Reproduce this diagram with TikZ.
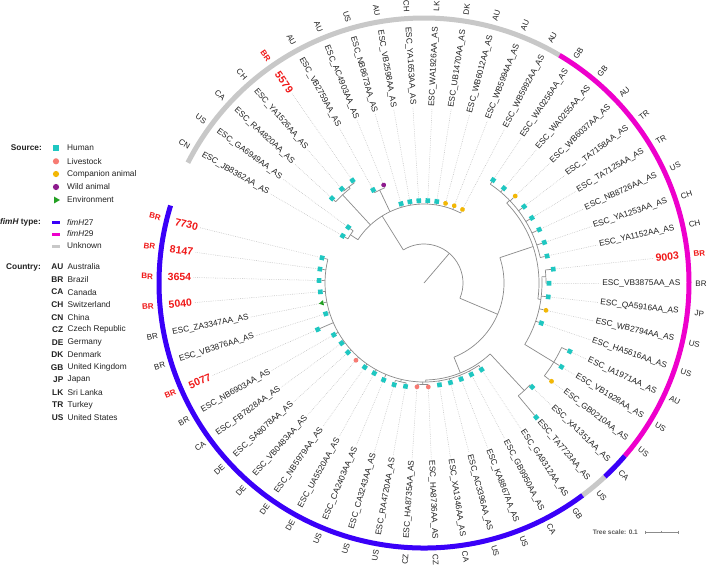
\documentclass[tikz,border=0pt]{standalone}
\usepackage{fontspec}
\setmainfont{Liberation Sans}
\usetikzlibrary{shapes.geometric}
\definecolor{human}{HTML}{1FC7C1}
\definecolor{livestock}{HTML}{F77B73}
\definecolor{companion}{HTML}{F2B705}
\definecolor{wild}{HTML}{8E1B8E}
\definecolor{env}{HTML}{22A022}
\definecolor{fimblue}{HTML}{3A00F8}
\definecolor{fimmag}{HTML}{EE00CC}
\definecolor{ringgrey}{HTML}{C8C8C8}
\definecolor{branch}{HTML}{8A8A8A}
\definecolor{dotc}{HTML}{B8B8B8}
\definecolor{numred}{HTML}{F01818}
\definecolor{txt}{HTML}{222222}
\tikzset{
 br/.style={draw=branch, line width=0.7pt},
 dotline/.style={draw=dotc, line width=0.5pt, dash pattern=on 0.6pt off 1.2pt},
 mk-h/.style={rectangle, fill=human, minimum size=4.6pt, inner sep=0pt},
 mk-l/.style={circle, fill=livestock, minimum size=4.8pt, inner sep=0pt},
 mk-c/.style={circle, fill=companion, minimum size=4.8pt, inner sep=0pt},
 mk-w/.style={circle, fill=wild, minimum size=4.8pt, inner sep=0pt},
 mk-e/.style={isosceles triangle, isosceles triangle apex angle=60, fill=env, minimum size=4.6pt, inner sep=0pt},
 lbl-0/.style={font=\fontsize{8.3}{9}\selectfont, text=txt, inner sep=0.5pt},
 lbl-1/.style={font=\fontsize{10.5}{11}\selectfont\bfseries, text=numred, inner sep=0.5pt},
 cty-0/.style={font=\fontsize{8}{9}\selectfont, text=txt, inner sep=0pt},
 cty-1/.style={font=\fontsize{8}{9}\selectfont\bfseries, text=numred, inner sep=0pt},
 lgh/.style={font=\fontsize{8.3}{9}\selectfont\bfseries, text=txt, inner sep=0pt, anchor=east},
 lgt/.style={font=\fontsize{8.3}{9}\selectfont, text=txt, inner sep=0pt, anchor=west},
 lgc/.style={font=\fontsize{8.3}{9}\selectfont\bfseries, text=txt, inner sep=0pt, anchor=east},
 ringseg/.style={line width=5pt},
}
\newcommand\trad[3]{\draw[br] (#1:#2) -- (#1:#3);}
\newcommand\tarc[3]{\draw[br] (#2:#1) arc[start angle=#2, end angle=#3, radius=#1];}
\begin{document}
\begin{tikzpicture}[x=1pt,y=1pt]
\useasboundingbox (0,0) rectangle (708,-566);
\fill[white] (0,0) rectangle (708,-566);
\begin{scope}[shift={(424,-283)}]
 % ring
 \draw[ringseg, ringgrey] (153:265) arc[start angle=153, end angle=59.25, radius=265];
 \draw[ringseg, fimmag] (59.25:265) arc[start angle=59.25, end angle=-40.75, radius=265];
 \draw[ringseg, fimblue] (-40.75:265) arc[start angle=-40.75, end angle=-47, radius=265];
 \draw[ringseg, ringgrey] (-47:265) arc[start angle=-47, end angle=-53.25, radius=265];
 \draw[ringseg, fimblue] (-53.25:265) arc[start angle=-53.25, end angle=-197, radius=265];
 % tree internal branches
 \trad{49.5}{0}{39} \tarc{39}{122}{-23}
 \trad{122}{39}{79} \tarc{79}{146.75}{62.375}
 \trad{146.75}{79}{88} \tarc{88}{149.875}{143.625}
 \trad{132.7}{79}{120} \tarc{120}{137.375}{128}
 \trad{128}{120}{122} \tarc{122}{131.125}{124.875}
 \trad{115.5}{79}{103} \tarc{103}{118.625}{112.375}
 \trad{-23}{39}{80} \tarc{80}{18.5}{-68}
 \trad{18.5}{80}{115} \tarc{115}{44}{-8}
 \trad{44}{115}{119} \tarc{119}{56.125}{12.375}
 \trad{-8}{115}{118} \tarc{118}{3}{-31.375}
 \trad{3}{118}{122} \tarc{122}{6.125}{-0.125}
 \trad{-31.375}{118}{152} \tarc{152}{-25.125}{-37.625}
 \trad{-68}{80}{97} \tarc{97}{-47}{-89}
 \trad{-47}{97}{147} \tarc{147}{-43.875}{-50.125}
 \trad{-89}{97}{99} \tarc{99}{-56.375}{-193.875}
 \trad{-90.75}{99}{101.5} \tarc{101.5}{-87.625}{-93.875}
 \trad{-103.25}{99}{101.5} \tarc{101.5}{-100.125}{-106.375}
 % tips
 \foreach \i/\lab/\red/\cc/\src/\rd/\rb in {
  0/ESC\_JB8362AA\_AS/0/CN/h/94/88,
  1/ESC\_GA6949AA\_AS/0/US/h/94/88,
  2/ESC\_RA4820AA\_AS/0/CA/h/125/120,
  3/ESC\_YA1526AA\_AS/0/CH/h/125/122,
  4/5579/1/BR/h/125/122,
  5/ESC\_VB2759AA\_AS/0/AU/h/106/103,
  6/ESC\_AC4903AA\_AS/0/AU/w/106/103,
  7/ESC\_NB8673AA\_AS/0/US/h/82.5/79,
  8/ESC\_VB2598AA\_AS/0/AU/h/82.5/79,
  9/ESC\_YA1653AA\_AS/0/CH/h/82.5/79,
  10/ESC\_WA1926AA\_AS/0/LK/h/82.5/79,
  11/ESC\_UB1470AA\_AS/0/DK/h/82.5/79,
  12/ESC\_WB6012AA\_AS/0/AU/c/82.5/79,
  13/ESC\_WB5994AA\_AS/0/AU/c/83/79,
  14/ESC\_WB5992AA\_AS/0/AU/c/83/79,
  15/ESC\_WA0256AA\_AS/0/GB/h/124/119,
  16/ESC\_WA0255AA\_AS/0/GB/h/124/119,
  17/ESC\_WB6037AA\_AS/0/AU/c/126/119,
  18/ESC\_TA7158AA\_AS/0/TR/h/126/119,
  19/ESC\_TA7125AA\_AS/0/TR/h/126/119,
  20/ESC\_NB8726AA\_AS/0/US/h/127/119,
  21/ESC\_YA1253AA\_AS/0/CH/h/127/119,
  22/ESC\_YA1152AA\_AS/0/CH/h/126/119,
  23/9003/1/BR/h/130/122,
  24/ESC\_VB3875AA\_AS/0/BR/h/125/122,
  25/ESC\_QA5916AA\_AS/0/JP/h/125/118,
  26/ESC\_WB2794AA\_AS/0/US/c/125/118,
  27/ESC\_HA5616AA\_AS/0/US/h/124/118,
  28/ESC\_IA1971AA\_AS/0/AU/h/161/152,
  29/ESC\_VB1928AA\_AS/0/US/h/161/152,
  30/ESC\_GB0210AA\_AS/0/US/c/161/152,
  31/ESC\_XA1351AA\_AS/0/CA/h/150/147,
  32/ESC\_TA7723AA\_AS/0/US/h/175/147,
  33/ESC\_GA9312AA\_AS/0/GB/h/104/99,
  34/ESC\_GB9950AA\_AS/0/CA/h/103/99,
  35/ESC\_KA8867AA\_AS/0/US/h/103/99,
  36/ESC\_AC3396AA\_AS/0/US/h/103/99,
  37/ESC\_XA1346AA\_AS/0/CA/h/103/99,
  38/ESC\_HA8736AA\_AS/0/CZ/l/104/101.5,
  39/ESC\_HA8735AA\_AS/0/CZ/l/104/101.5,
  40/ESC\_RA4720AA\_AS/0/US/h/105/101.5,
  41/ESC\_CA3243AA\_AS/0/US/h/106/101.5,
  42/ESC\_CA2403AA\_AS/0/US/h/105/99,
  43/ESC\_UA5520AA\_AS/0/DE/h/103/99,
  44/ESC\_NB5979AA\_AS/0/DE/h/103/99,
  45/ESC\_VB0483AA\_AS/0/DE/l/103/99,
  46/ESC\_SA8078AA\_AS/0/DE/h/103/99,
  47/ESC\_FB7828AA\_AS/0/CA/h/102/99,
  48/ESC\_NB6903AA\_AS/0/BR/h/104/99,
  49/5077/1/BR/h/116/99,
  50/ESC\_VB3876AA\_AS/0/BR/h/103/99,
  51/ESC\_ZA3347AA\_AS/0/BR/e/104/99,
  52/5040/1/BR/h/104/99,
  53/3654/1/BR/h/105/99,
  54/8147/1/BR/h/105/99,
  55/7730/1/BR/h/105/99} {
  \pgfmathsetmacro\ang{149.875-6.25*\i}
  \pgfmathsetmacro\cosv{cos(\ang)}
  \ifdim\cosv pt<0pt
    \pgfmathsetmacro\rot{\ang+180}\def\anc{west}\def\inanc{east}
  \else
    \let\rot\ang\def\anc{east}\def\inanc{west}
  \fi
  \node[mk-\src, rotate=\ang] (T\i) at (\ang:\rd) {};
  \draw[br] (\ang:\rb) -- (T\i);
  \node[lbl-\red, rotate=\rot, anchor=\anc] (L\i) at (\ang:257) {\lab};
  \node[cty-\red, rotate=\rot] (C\i) at (\ang:277) {\cc};
  \draw[dotline, shorten >=1.5pt] (T\i) -- (L\i.\inanc);
 }
\end{scope}
% legend: source
\node[lgh] (srcH) at (42,-148) {Source:};
\node[mk-h, minimum size=6pt] (s1) at (56,-148) {};
\node[lgt] (s1t) at (67,-148) {Human};
\node[mk-l, minimum size=6.2pt] (s2) at (56,-161.3) {};
\node[lgt] (s2t) at (67,-161.3) {Livestock};
\node[mk-c, minimum size=6.2pt] (s3) at (56,-174) {};
\node[lgt] (s3t) at (67,-174) {Companion animal};
\node[mk-w, minimum size=6.2pt] (s4) at (56,-187) {};
\node[lgt] (s4t) at (67,-187) {Wild animal};
\node[mk-e, minimum size=6pt] (s5) at (56,-200) {};
\node[lgt] (s5t) at (67,-200) {Environment};
% legend: fimH
\node[lgh] (fimH) at (41,-222) {\textit{fimH} type:};
\draw[line width=3pt, fimblue] (52,-222) -- (60,-222);
\node[lgt] (f1t) at (67,-222) {\textit{fimH}27};
\draw[line width=3pt, fimmag] (52,-234) -- (60,-234);
\node[lgt] (f2t) at (67,-234) {\textit{fimH}29};
\draw[line width=3pt, ringgrey] (52,-246) -- (60,-246);
\node[lgt] (f3t) at (67,-246) {Unknown};
% legend: country
\node[lgh] (ctyH) at (41,-267) {Country:};
\foreach \k/\code/\cname in {0/AU/Australia,1/BR/Brazil,2/CA/Canada,3/CH/Switzerland,4/CN/China,5/CZ/Czech Republic,6/DE/Germany,7/DK/Denmark,8/GB/United Kingdom,9/JP/Japan,10/LK/Sri Lanka,11/TR/Turkey,12/US/United States} {
  \node[lgc] (cc\k) at (63.5,-267-12.55*\k) {\code};
  \node[lgt] (cn\k) at (67.5,-267-12.55*\k) {\cname};
}
% tree scale
\node[font=\fontsize{6.5}{7}\selectfont\bfseries, text=black!65, anchor=east, inner sep=0pt] (ts) at (638,-532.5) {Tree scale: 0.1};
\draw[draw=black!45, line width=0.6pt] (645,-532) -- (678,-532);
\draw[draw=black!45, line width=0.6pt] (645,-530.5) -- (645,-533.5) (661.5,-530.8) -- (661.5,-533.2) (678,-530.5) -- (678,-533.5);
\end{tikzpicture}
\end{document}
